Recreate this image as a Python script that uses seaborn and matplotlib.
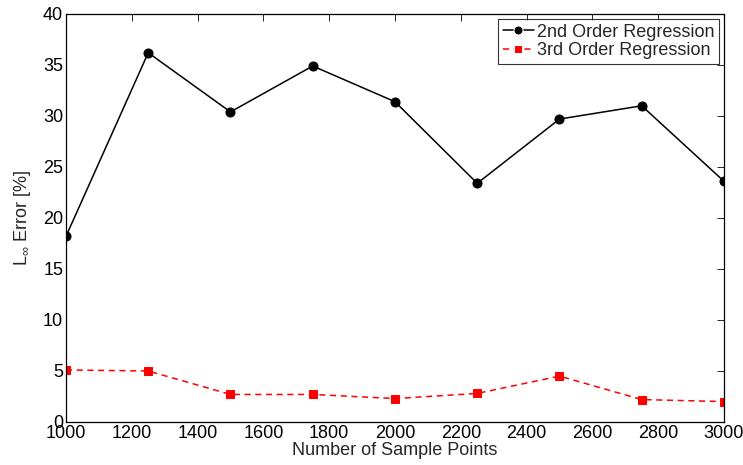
import matplotlib
matplotlib.use("Agg")
import matplotlib.pyplot as plt
import seaborn as sns
import pandas as pd

samples = [1000, 1250, 1500, 1750, 2000, 2250, 2500, 2750, 3000]
second_order = [18.2, 36.2, 30.4, 34.9, 31.4, 23.4, 29.7, 31.0, 23.6]
third_order = [5.1, 5.0, 2.7, 2.7, 2.3, 2.8, 4.5, 2.2, 2.0]
series_names = ["2nd Order Regression", "3rd Order Regression"]
x_ticks = [1000, 1200, 1400, 1600, 1800, 2000, 2200, 2400, 2600, 2800, 3000]
y_ticks = [0, 5, 10, 15, 20, 25, 30, 35, 40]

sns.set_style("white")
plt.rcParams['font.family'] = ['Liberation Sans', 'DejaVu Sans']
plt.rcParams['mathtext.fontset'] = 'custom'
plt.rcParams['mathtext.rm'] = 'Liberation Sans'

df = pd.DataFrame({
    "x": samples * 2,
    "y": second_order + third_order,
    "series": [series_names[0]] * len(samples) + [series_names[1]] * len(samples),
})

fig = plt.figure(figsize=(7.43, 4.65), dpi=100)
ax = fig.add_axes([0.0888, 0.0925, 0.8856, 0.8774])

sns.lineplot(data=df, x="x", y="y", hue="series", style="series",
             palette=["black", "red"], markers=["o", "s"],
             dashes=[(None, None), (4, 3)], markersize=6, linewidth=1.1,
             ax=ax, legend=True)
msizes = {"black": 6.5, "red": 5.2}
for line, mec, ms in zip(ax.get_lines(), ["black", "red"], [6.5, 5.2]):
    line.set_markeredgecolor(mec)
    line.set_markersize(ms)

FS = 13
ax.set_xlim(1000, 3000)
ax.set_ylim(0, 40)
ax.set_xticks(x_ticks)
ax.set_yticks(y_ticks)
ax.tick_params(direction="in", top=True, right=True, length=5, width=0.6,
               labelsize=FS, pad=2, colors="black")
for s in ax.spines.values():
    s.set_linewidth(0.9)
    s.set_color("black")
ax.set_xlabel("Number of Sample Points", fontsize=FS, labelpad=0)
ax.set_ylabel(r"L$_\infty$ Error [%]", fontsize=FS, labelpad=7)

handles, labels = ax.get_legend_handles_labels()
for h, ms in zip(handles, [6.5, 5.2]):
    h.set_markersize(ms)
leg = ax.legend(handles, labels, loc="upper right", bbox_to_anchor=(0.9924, 0.9877),
                borderaxespad=0, fontsize=FS, frameon=True,
                fancybox=False, edgecolor="black", borderpad=0.25,
                handlelength=1.75, handletextpad=0.15, labelspacing=0.1)
leg.get_frame().set_linewidth(0.8)

fig.savefig("out.png", dpi=100)
